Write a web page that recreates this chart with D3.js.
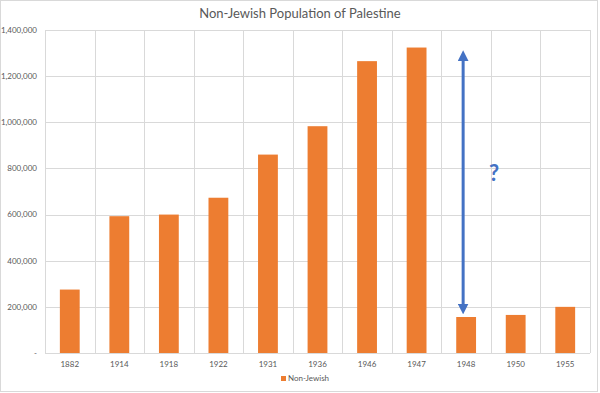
<!DOCTYPE html>
<html>
<head>
<meta charset="utf-8">
<script src="https://cdn.jsdelivr.net/npm/d3@7"></script>
<style>
  body { margin: 0; background: #fff; }
  text { font-family: Lato, "Open Sans", sans-serif; }
</style>
</head>
<body>
<div id="chart"></div>
<script>
const years = ["1882", "1914", "1918", "1922", "1931", "1936", "1946", "1947", "1948", "1950", "1955"];
const nonJewish = [275000, 593000, 600000, 673000, 860000, 983000, 1265000, 1324000, 156000, 165000, 200000];
const yTicks = [0, 200000, 400000, 600000, 800000, 1000000, 1200000, 1400000];
const seriesName = "Non-Jewish";
const chartTitle = "Non-Jewish Population of Palestine";

const width = 600;
const height = 393;
const margin = { top: 30, right: 10, bottom: 40, left: 45 };
const barColor = "#ED7D31";
const gridColor = "#d9d9d9";
const arrowColor = "#4472C4";

const svg = d3.select("#chart")
    .append("svg")
        .attr("width", width)
        .attr("height", height);

// outer border
svg.append("rect")
    .attr("x", 0.5).attr("y", 0.5)
    .attr("width", width - 3).attr("height", height - 2)
    .attr("fill", "#fff")
    .attr("stroke", "#d9d9d9");

const x = d3.scaleBand()
    .domain(years)
    .range([margin.left, width - margin.right])
    .paddingInner(0.6)
    .paddingOuter(0.3);

const y = d3.scaleLinear()
    .domain([0, 1400000])
    .range([height - margin.bottom, margin.top]);

// horizontal grid
svg.append("g")
    .selectAll("line")
    .data(yTicks)
    .enter().append("line")
        .attr("x1", margin.left).attr("x2", width - margin.right)
        .attr("y1", d => Math.round(y(d)) + 0.5).attr("y2", d => Math.round(y(d)) + 0.5)
        .attr("stroke", gridColor);

// vertical grid at category boundaries
const bounds = d3.range(years.length + 1).map(i => margin.left + i * (width - margin.right - margin.left) / years.length);
svg.append("g")
    .selectAll("line")
    .data(bounds)
    .enter().append("line")
        .attr("x1", d => Math.round(d) + 0.5).attr("x2", d => Math.round(d) + 0.5)
        .attr("y1", margin.top).attr("y2", height - margin.bottom)
        .attr("stroke", gridColor);

// y-axis labels
svg.append("g")
    .selectAll("text")
    .data(yTicks)
    .enter().append("text")
        .attr("x", margin.left - 8)
        .attr("y", d => y(d))
        .attr("dy", "0.35em")
        .attr("text-anchor", "end")
        .attr("font-size", 8)
        .attr("fill", "#595959")
        .text(d => d === 0 ? "-" : d3.format(",")(d));

// bars
svg.append("g")
    .selectAll("rect")
    .data(years)
    .enter().append("rect")
        .attr("x", d => x(d))
        .attr("width", x.bandwidth())
        .attr("y", (d, i) => y(nonJewish[i]))
        .attr("height", (d, i) => y(0) - y(nonJewish[i]))
        .attr("fill", barColor);

// x-axis labels
svg.append("g")
    .selectAll("text")
    .data(years)
    .enter().append("text")
        .attr("x", d => x(d) + x.bandwidth() / 2)
        .attr("y", height - margin.bottom + 14)
        .attr("text-anchor", "middle")
        .attr("font-size", 8)
        .attr("fill", "#595959")
        .text(d => d);

// title
svg.append("text")
    .attr("x", 300)
    .attr("y", 18)
    .attr("text-anchor", "middle")
    .attr("font-size", 13)
    .attr("fill", "#595959")
    .text(chartTitle);

// legend
svg.append("rect")
    .attr("x", 281).attr("y", 376)
    .attr("width", 5).attr("height", 5)
    .attr("fill", barColor);
svg.append("text")
    .attr("x", 288).attr("y", 381)
    .attr("font-size", 8)
    .attr("fill", "#595959")
    .text(seriesName);

// double arrow over 1948
const defs = svg.append("defs");
defs.append("marker")
    .attr("id", "head")
    .attr("viewBox", "0 0 10 10")
    .attr("refX", 5).attr("refY", 5)
    .attr("markerWidth", 3.6).attr("markerHeight", 3.6)
    .attr("orient", "auto-start-reverse")
    .append("path")
        .attr("d", "M0,0 L10,5 L0,10 Z")
        .attr("fill", arrowColor);

const ax = x("1948") + x.bandwidth() / 2 - 3;
svg.append("line")
    .attr("x1", ax).attr("x2", ax)
    .attr("y1", y(1324000) + 8)
    .attr("y2", y(156000) - 8)
    .attr("stroke", arrowColor)
    .attr("stroke-width", 3)
    .attr("marker-start", "url(#head)")
    .attr("marker-end", "url(#head)");

svg.append("text")
    .attr("x", ax + 31)
    .attr("y", y(745000))
    .attr("text-anchor", "middle")
    .attr("font-size", 22)
    .attr("font-weight", "bold")
    .attr("fill", arrowColor)
    .text("?");
</script>
</body>
</html>
